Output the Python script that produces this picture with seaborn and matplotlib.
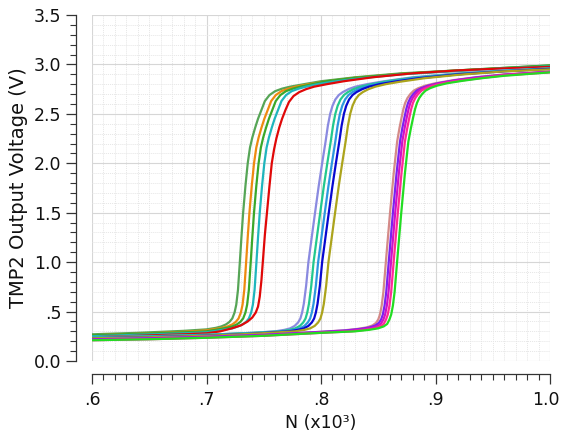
import numpy as np
import pandas as pd
import matplotlib
matplotlib.use("Agg")
import matplotlib.pyplot as plt
import matplotlib.transforms as mtransforms
import seaborn as sns
from matplotlib.ticker import MultipleLocator

# ---------------- data ----------------
# Group 1 (switching near N = 0.73-0.75 x10^3)
g1_dkgreen_x = [0.600, 0.640, 0.680, 0.700, 0.708, 0.713, 0.717, 0.720, 0.7225, 0.7245, 0.726, 0.7275, 0.729, 0.7305, 0.732, 0.734, 0.736, 0.738, 0.740, 0.7425, 0.745, 0.748, 0.751, 0.755, 0.760, 0.766, 0.773, 0.785, 0.800, 0.830, 0.870, 0.920, 0.960, 1.000]
g1_dkgreen_y = [0.27, 0.285, 0.305, 0.32, 0.335, 0.35, 0.37, 0.395, 0.43, 0.49, 0.57, 0.72, 0.98, 1.25, 1.50, 1.77, 2.00, 2.16, 2.26, 2.36, 2.45, 2.54, 2.63, 2.69, 2.73, 2.755, 2.775, 2.80, 2.83, 2.87, 2.91, 2.94, 2.965, 2.99]
g1_orange_x = [0.600, 0.640, 0.680, 0.700, 0.7135, 0.7185, 0.7225, 0.7255, 0.728, 0.730, 0.7315, 0.733, 0.7345, 0.736, 0.7375, 0.7395, 0.7415, 0.7435, 0.7455, 0.748, 0.7505, 0.7535, 0.7565, 0.7605, 0.7655, 0.7715, 0.778, 0.789, 0.800, 0.830, 0.870, 0.920, 0.960, 1.000]
g1_orange_y = [0.26, 0.275, 0.295, 0.31, 0.335, 0.35, 0.37, 0.395, 0.43, 0.49, 0.57, 0.72, 0.98, 1.25, 1.50, 1.77, 2.00, 2.16, 2.26, 2.36, 2.45, 2.54, 2.63, 2.69, 2.73, 2.755, 2.775, 2.80, 2.82, 2.865, 2.905, 2.935, 2.96, 2.98]
g1_green_x = [0.600, 0.640, 0.680, 0.700, 0.7175, 0.7225, 0.7265, 0.7295, 0.732, 0.734, 0.7355, 0.737, 0.7385, 0.740, 0.7415, 0.7435, 0.7455, 0.7475, 0.7495, 0.752, 0.7545, 0.7575, 0.7605, 0.7645, 0.7695, 0.7755, 0.782, 0.792, 0.805, 0.830, 0.870, 0.920, 0.960, 1.000]
g1_green_y = [0.26, 0.275, 0.29, 0.30, 0.335, 0.35, 0.37, 0.395, 0.43, 0.49, 0.57, 0.72, 0.98, 1.25, 1.50, 1.77, 2.00, 2.16, 2.26, 2.36, 2.45, 2.54, 2.63, 2.69, 2.73, 2.755, 2.775, 2.80, 2.83, 2.865, 2.905, 2.94, 2.965, 2.99]
g1_cyan_x = [0.600, 0.640, 0.680, 0.700, 0.7225, 0.7275, 0.7315, 0.7345, 0.737, 0.739, 0.7405, 0.742, 0.7435, 0.745, 0.7465, 0.7485, 0.7505, 0.7525, 0.7545, 0.757, 0.7595, 0.7625, 0.7655, 0.7695, 0.7745, 0.7805, 0.787, 0.797, 0.810, 0.835, 0.870, 0.920, 0.960, 1.000]
g1_cyan_y = [0.25, 0.265, 0.28, 0.29, 0.33, 0.35, 0.37, 0.395, 0.43, 0.49, 0.57, 0.72, 0.98, 1.25, 1.50, 1.77, 2.00, 2.16, 2.26, 2.36, 2.45, 2.54, 2.63, 2.69, 2.73, 2.755, 2.775, 2.80, 2.825, 2.86, 2.90, 2.935, 2.96, 2.98]
g1_red_x = [0.600, 0.640, 0.680, 0.700, 0.712, 0.722, 0.730, 0.736, 0.740, 0.743, 0.745, 0.7465, 0.748, 0.7495, 0.751, 0.7528, 0.755, 0.757, 0.759, 0.761, 0.7635, 0.766, 0.769, 0.772, 0.776, 0.781, 0.787, 0.794, 0.805, 0.820, 0.845, 0.880, 0.920, 0.960, 1.000]
g1_red_y = [0.24, 0.255, 0.27, 0.28, 0.30, 0.33, 0.36, 0.40, 0.44, 0.49, 0.55, 0.65, 0.82, 1.05, 1.28, 1.50, 1.77, 2.00, 2.14, 2.25, 2.36, 2.45, 2.54, 2.62, 2.68, 2.72, 2.75, 2.775, 2.80, 2.83, 2.87, 2.91, 2.94, 2.96, 2.975]

# Group 2 (switching near N = 0.79-0.81 x10^3)
g2_lavender_x = [0.600, 0.650, 0.700, 0.740, 0.760, 0.768, 0.773, 0.777, 0.780, 0.782, 0.7835, 0.785, 0.787, 0.789, 0.792, 0.7948, 0.798, 0.801, 0.804, 0.806, 0.808, 0.810, 0.8125, 0.8155, 0.819, 0.824, 0.830, 0.840, 0.855, 0.880, 0.920, 0.960, 1.000]
g2_lavender_y = [0.24, 0.25, 0.265, 0.285, 0.30, 0.315, 0.33, 0.355, 0.39, 0.43, 0.49, 0.58, 0.76, 1.00, 1.26, 1.50, 1.77, 2.00, 2.22, 2.38, 2.50, 2.58, 2.645, 2.69, 2.72, 2.75, 2.775, 2.80, 2.83, 2.87, 2.91, 2.94, 2.96]
g2_teal_x = [0.600, 0.650, 0.700, 0.740, 0.7645, 0.7725, 0.7775, 0.7815, 0.7845, 0.7865, 0.788, 0.7895, 0.7915, 0.7935, 0.7965, 0.7993, 0.8025, 0.8055, 0.8085, 0.8105, 0.8125, 0.8145, 0.817, 0.820, 0.8235, 0.8285, 0.8345, 0.844, 0.858, 0.880, 0.920, 0.960, 1.000]
g2_teal_y = [0.24, 0.25, 0.265, 0.285, 0.30, 0.315, 0.33, 0.355, 0.39, 0.43, 0.49, 0.58, 0.76, 1.00, 1.26, 1.50, 1.77, 2.00, 2.22, 2.38, 2.50, 2.58, 2.645, 2.69, 2.72, 2.75, 2.775, 2.80, 2.83, 2.865, 2.905, 2.935, 2.96]
g2_ltblue_x = [0.600, 0.650, 0.700, 0.740, 0.7685, 0.7765, 0.7815, 0.7855, 0.7885, 0.7905, 0.792, 0.7935, 0.7955, 0.7975, 0.8005, 0.8033, 0.8065, 0.8095, 0.8125, 0.8145, 0.8165, 0.8185, 0.821, 0.824, 0.8275, 0.8325, 0.8385, 0.848, 0.861, 0.880, 0.920, 0.960, 1.000]
g2_ltblue_y = [0.235, 0.245, 0.26, 0.28, 0.30, 0.315, 0.33, 0.355, 0.39, 0.43, 0.49, 0.58, 0.76, 1.00, 1.26, 1.50, 1.77, 2.00, 2.22, 2.38, 2.50, 2.58, 2.645, 2.69, 2.72, 2.75, 2.775, 2.80, 2.825, 2.86, 2.90, 2.935, 2.955]
g2_blue_x = [0.600, 0.650, 0.700, 0.740, 0.772, 0.780, 0.785, 0.789, 0.792, 0.794, 0.7955, 0.797, 0.799, 0.801, 0.804, 0.8068, 0.810, 0.813, 0.816, 0.818, 0.820, 0.822, 0.8245, 0.8275, 0.831, 0.836, 0.842, 0.851, 0.864, 0.885, 0.920, 0.960, 1.000]
g2_blue_y = [0.23, 0.24, 0.255, 0.275, 0.30, 0.315, 0.33, 0.355, 0.39, 0.43, 0.49, 0.58, 0.76, 1.00, 1.26, 1.50, 1.77, 2.00, 2.22, 2.38, 2.50, 2.58, 2.645, 2.69, 2.72, 2.75, 2.775, 2.80, 2.825, 2.86, 2.90, 2.93, 2.955]
g2_olive_x = [0.600, 0.650, 0.700, 0.740, 0.7775, 0.7855, 0.7905, 0.7945, 0.7975, 0.7995, 0.801, 0.8025, 0.8045, 0.8065, 0.8095, 0.8123, 0.8155, 0.8185, 0.8215, 0.8235, 0.8255, 0.8275, 0.830, 0.833, 0.8365, 0.8415, 0.8475, 0.8565, 0.869, 0.890, 0.920, 0.960, 1.000]
g2_olive_y = [0.23, 0.24, 0.255, 0.275, 0.30, 0.315, 0.33, 0.355, 0.39, 0.43, 0.49, 0.58, 0.76, 1.00, 1.26, 1.50, 1.77, 2.00, 2.22, 2.38, 2.50, 2.58, 2.645, 2.69, 2.72, 2.75, 2.775, 2.80, 2.825, 2.86, 2.895, 2.93, 2.95]

# Group 3 (switching near N = 0.86-0.87 x10^3)
g3_salmon_x = [0.600, 0.650, 0.700, 0.750, 0.800, 0.820, 0.832, 0.840, 0.845, 0.848, 0.850, 0.8515, 0.853, 0.8545, 0.857, 0.8603, 0.8635, 0.8665, 0.8686, 0.8705, 0.872, 0.8735, 0.8755, 0.878, 0.881, 0.885, 0.891, 0.900, 0.915, 0.935, 0.960, 1.000]
g3_salmon_y = [0.22, 0.23, 0.245, 0.265, 0.295, 0.31, 0.325, 0.34, 0.36, 0.385, 0.42, 0.47, 0.56, 0.70, 1.05, 1.50, 1.90, 2.22, 2.36, 2.47, 2.55, 2.61, 2.66, 2.70, 2.735, 2.76, 2.785, 2.81, 2.84, 2.87, 2.90, 2.93]
g3_purple_x = [0.600, 0.650, 0.700, 0.750, 0.800, 0.8225, 0.8345, 0.8425, 0.8475, 0.8505, 0.8525, 0.854, 0.8555, 0.857, 0.8595, 0.8628, 0.866, 0.869, 0.8711, 0.873, 0.8745, 0.876, 0.878, 0.8805, 0.8835, 0.8875, 0.8935, 0.9025, 0.917, 0.936, 0.960, 1.000]
g3_purple_y = [0.22, 0.23, 0.245, 0.265, 0.295, 0.31, 0.325, 0.34, 0.36, 0.385, 0.42, 0.47, 0.56, 0.70, 1.05, 1.50, 1.90, 2.22, 2.36, 2.47, 2.55, 2.61, 2.66, 2.70, 2.735, 2.76, 2.785, 2.81, 2.84, 2.87, 2.895, 2.925]
g3_magenta_x = [0.600, 0.650, 0.700, 0.750, 0.800, 0.8245, 0.8365, 0.8445, 0.8495, 0.8525, 0.8545, 0.856, 0.8575, 0.859, 0.8615, 0.8648, 0.868, 0.871, 0.8731, 0.875, 0.8765, 0.878, 0.880, 0.8825, 0.8855, 0.8895, 0.8955, 0.9045, 0.919, 0.937, 0.960, 1.000]
g3_magenta_y = [0.215, 0.225, 0.24, 0.26, 0.29, 0.305, 0.32, 0.335, 0.355, 0.38, 0.42, 0.47, 0.56, 0.70, 1.05, 1.50, 1.90, 2.22, 2.36, 2.47, 2.55, 2.61, 2.66, 2.70, 2.735, 2.76, 2.785, 2.81, 2.84, 2.865, 2.895, 2.925]
g3_pink_x = [0.600, 0.650, 0.700, 0.750, 0.800, 0.8268, 0.8388, 0.8468, 0.8518, 0.8548, 0.8568, 0.8583, 0.8598, 0.8613, 0.8638, 0.8671, 0.8703, 0.8733, 0.8754, 0.8773, 0.8788, 0.8803, 0.8823, 0.8848, 0.8878, 0.8918, 0.8978, 0.9068, 0.921, 0.938, 0.960, 1.000]
g3_pink_y = [0.21, 0.22, 0.235, 0.255, 0.285, 0.30, 0.315, 0.33, 0.35, 0.375, 0.42, 0.47, 0.56, 0.70, 1.05, 1.50, 1.90, 2.22, 2.36, 2.47, 2.55, 2.61, 2.66, 2.70, 2.735, 2.76, 2.785, 2.81, 2.835, 2.86, 2.89, 2.92]
g3_green_x = [0.600, 0.650, 0.700, 0.750, 0.800, 0.8298, 0.8418, 0.8498, 0.8548, 0.8578, 0.8598, 0.8613, 0.8628, 0.8643, 0.8668, 0.8701, 0.8733, 0.8763, 0.8786, 0.8806, 0.8822, 0.8838, 0.8858, 0.8883, 0.8913, 0.8953, 0.9013, 0.9103, 0.924, 0.940, 0.960, 1.000]
g3_green_y = [0.21, 0.22, 0.235, 0.255, 0.285, 0.30, 0.315, 0.33, 0.35, 0.375, 0.42, 0.47, 0.56, 0.70, 1.05, 1.50, 1.90, 2.22, 2.36, 2.47, 2.55, 2.61, 2.66, 2.70, 2.735, 2.76, 2.785, 2.81, 2.835, 2.86, 2.885, 2.92]

curve_names = ["g1_dkgreen", "g1_orange", "g1_green", "g1_cyan", "g1_red",
               "g2_lavender", "g2_teal", "g2_ltblue", "g2_blue", "g2_olive",
               "g3_salmon", "g3_purple", "g3_magenta", "g3_pink", "g3_green"]
curve_x = [g1_dkgreen_x, g1_orange_x, g1_green_x, g1_cyan_x, g1_red_x,
           g2_lavender_x, g2_teal_x, g2_ltblue_x, g2_blue_x, g2_olive_x,
           g3_salmon_x, g3_purple_x, g3_magenta_x, g3_pink_x, g3_green_x]
curve_y = [g1_dkgreen_y, g1_orange_y, g1_green_y, g1_cyan_y, g1_red_y,
           g2_lavender_y, g2_teal_y, g2_ltblue_y, g2_blue_y, g2_olive_y,
           g3_salmon_y, g3_purple_y, g3_magenta_y, g3_pink_y, g3_green_y]

x_tick_values = [0.6, 0.7, 0.8, 0.9, 1.0]
x_tick_labels = [".6", ".7", ".8", ".9", "1.0"]
y_tick_values = [0.0, 0.5, 1.0, 1.5, 2.0, 2.5, 3.0, 3.5]
y_tick_labels = ["0.0", ".5", "1.0", "1.5", "2.0", "2.5", "3.0", "3.5"]

# ---------------- styles ----------------
palette = {
    "g1_dkgreen": "#56a556", "g1_orange": "#ee8a10", "g1_green": "#3aa82a",
    "g1_cyan": "#1fb5bd", "g1_red": "#e00808",
    "g2_lavender": "#8a8ae0", "g2_teal": "#22c88e", "g2_ltblue": "#2c98de",
    "g2_blue": "#0808d0", "g2_olive": "#aca41c",
    "g3_salmon": "#d48a88", "g3_purple": "#7a22f0", "g3_magenta": "#d010c8",
    "g3_pink": "#ff2a96", "g3_green": "#22dd22",
}

rows = []
for name, xs, ys in zip(curve_names, curve_x, curve_y):
    for xv, yv in zip(xs, ys):
        rows.append((name, xv, yv))
df = pd.DataFrame(rows, columns=["curve", "N", "V"])

sns.set_style("white")
plt.rcParams["font.family"] = ["DejaVu Sans"]

fig = plt.figure(figsize=(5.62, 4.38), dpi=100)
ax = fig.add_axes([92 / 562, 1 - 361 / 438, (550 - 92) / 562, (361 - 15) / 438])

sns.lineplot(data=df, x="N", y="V", hue="curve", hue_order=curve_names,
             palette=palette, estimator=None, sort=False, linewidth=1.6,
             legend=False, ax=ax)
for ln in ax.get_lines():
    ln.set_solid_joinstyle("round")

ax.set_xlim(0.6, 1.0)
ax.set_ylim(0.0, 3.5)
ax.xaxis.set_major_locator(MultipleLocator(0.1))
ax.xaxis.set_minor_locator(MultipleLocator(0.01))
ax.yaxis.set_major_locator(MultipleLocator(0.5))
ax.yaxis.set_minor_locator(MultipleLocator(0.1))
ax.set_xticks(x_tick_values)
ax.set_xticklabels(x_tick_labels)
ax.set_yticks(y_tick_values)
ax.set_yticklabels(y_tick_labels)

ax.grid(which="major", color="#d6d6d6", linewidth=0.8, linestyle="-")
ax.grid(which="minor", color="#e6e6e6", linewidth=0.7, linestyle=(0, (1, 1)))
ax.set_axisbelow(True)

for s in ["top", "right"]:
    ax.spines[s].set_visible(False)
ax.spines["left"].set_position(("outward", 11.5))
ax.spines["bottom"].set_position(("outward", 9.5))
ax.spines["left"].set_bounds(0.0, 3.5)
ax.spines["bottom"].set_bounds(0.6, 1.0)
for s in ["left", "bottom"]:
    ax.spines[s].set_color("#333333")
    ax.spines[s].set_linewidth(0.9)

ax.tick_params(which="major", direction="out", length=7, width=0.9, color="#333333",
               labelsize=12.5, labelcolor="#111111")
ax.tick_params(axis="x", which="major", pad=5)
ax.tick_params(axis="y", which="major", pad=3.5)
ax.tick_params(which="minor", direction="out", length=4, width=0.8, color="#333333")
ax.tick_params(axis="both", which="both", bottom=True, left=True)

ax.set_xlabel("N (x10³)", fontsize=12.5, color="#111111", labelpad=4)
ax.set_ylabel("TMP2 Output Voltage (V)", fontsize=14, color="#111111", labelpad=4)

# keep the last x tick label inside the canvas, as in the reference
last_lbl = ax.get_xticklabels()[-1]
last_lbl.set_horizontalalignment("right")
last_lbl.set_transform(last_lbl.get_transform() +
                       mtransforms.ScaledTranslation(0.10, 0, fig.dpi_scale_trans))

fig.savefig("out.png", dpi=100, facecolor="white")
